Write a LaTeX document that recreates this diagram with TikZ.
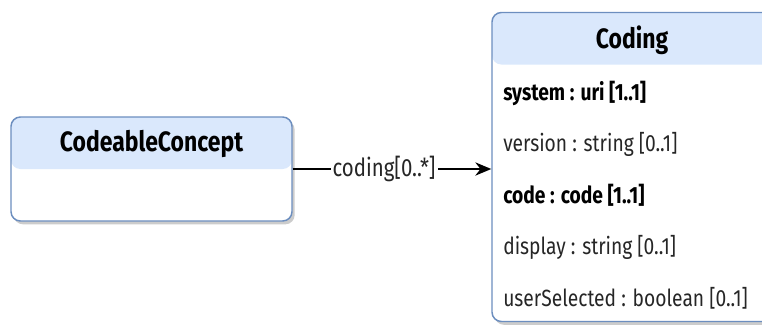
\documentclass[tikz,border=0pt]{standalone}
\usepackage{fontspec}
\setmainfont{Fira Sans}[FakeStretch=0.82]
\usepackage{xcolor}
\usepackage{tikz}
\usetikzlibrary{positioning}
\usetikzlibrary{arrows.meta}
\usetikzlibrary{shadows}
\definecolor{umlborder}{HTML}{6C8EBF}
\definecolor{umlhead}{HTML}{DAE8FC}
\definecolor{umltext}{HTML}{262626}
\newcommand{\hheight}{39pt}
\newcommand{\rowskip}{51.6}
\newcommand{\attrfont}{\fontsize{17.6}{21}\selectfont}

\tikzset{
	classbox/.style={draw=umlborder, line width=1.1pt, fill=white, rounded corners=7pt,
		drop shadow={shadow xshift=2pt, shadow yshift=-2.5pt, opacity=0.2, fill=black},
		path picture={\fill[umlhead] (path picture bounding box.north west) rectangle ([yshift=-\hheight]path picture bounding box.north east);}},
	classtitle/.style={font=\bfseries\fontsize{21}{24}\selectfont, anchor=base, inner sep=0pt},
	attr/.style={font=\attrfont, text=umltext, anchor=base west, inner sep=0pt},
	keyattr/.style={attr, font=\bfseries\attrfont, text=black},
	assoc/.style={line width=1.1pt, -{Stealth[length=12pt, width=10pt]}}
}

\begin{document}
\begin{tikzpicture}[x=0.75pt, y=-0.75pt]
	\clip (0,0) rectangle (762,325);

	\node[classbox, minimum width=210.75pt, minimum height=78pt] (cc) at (151.5,169) {};
	\node[classtitle] (cctitle) at (151.5,151.7) {CodeableConcept};

	\node[classbox, minimum width=210pt, minimum height=231.75pt] (coding) at (632,167) {};
	\node[classtitle] (codingtitle) at (632,48.3) {Coding};
	\foreach \txt/\sty [count=\i from 0] in {{system : uri [1..1]}/keyattr, {version : string [0..1]}/attr,
			{code : code [1..1]}/keyattr, {display : string [0..1]}/attr, {userSelected : boolean [0..1]}/attr}
		\node[\sty] (attr\i) at (503,100+\i*\rowskip) {\txt};

	\draw[assoc] (cc.east) -- (cc.east -| coding.west)
		node[pos=0.46, fill=white, inner sep=1.5pt, font=\fontsize{18.7}{22}\selectfont, text=umltext] (assoclabel) {coding[0..*]};
\end{tikzpicture}
\end{document}
